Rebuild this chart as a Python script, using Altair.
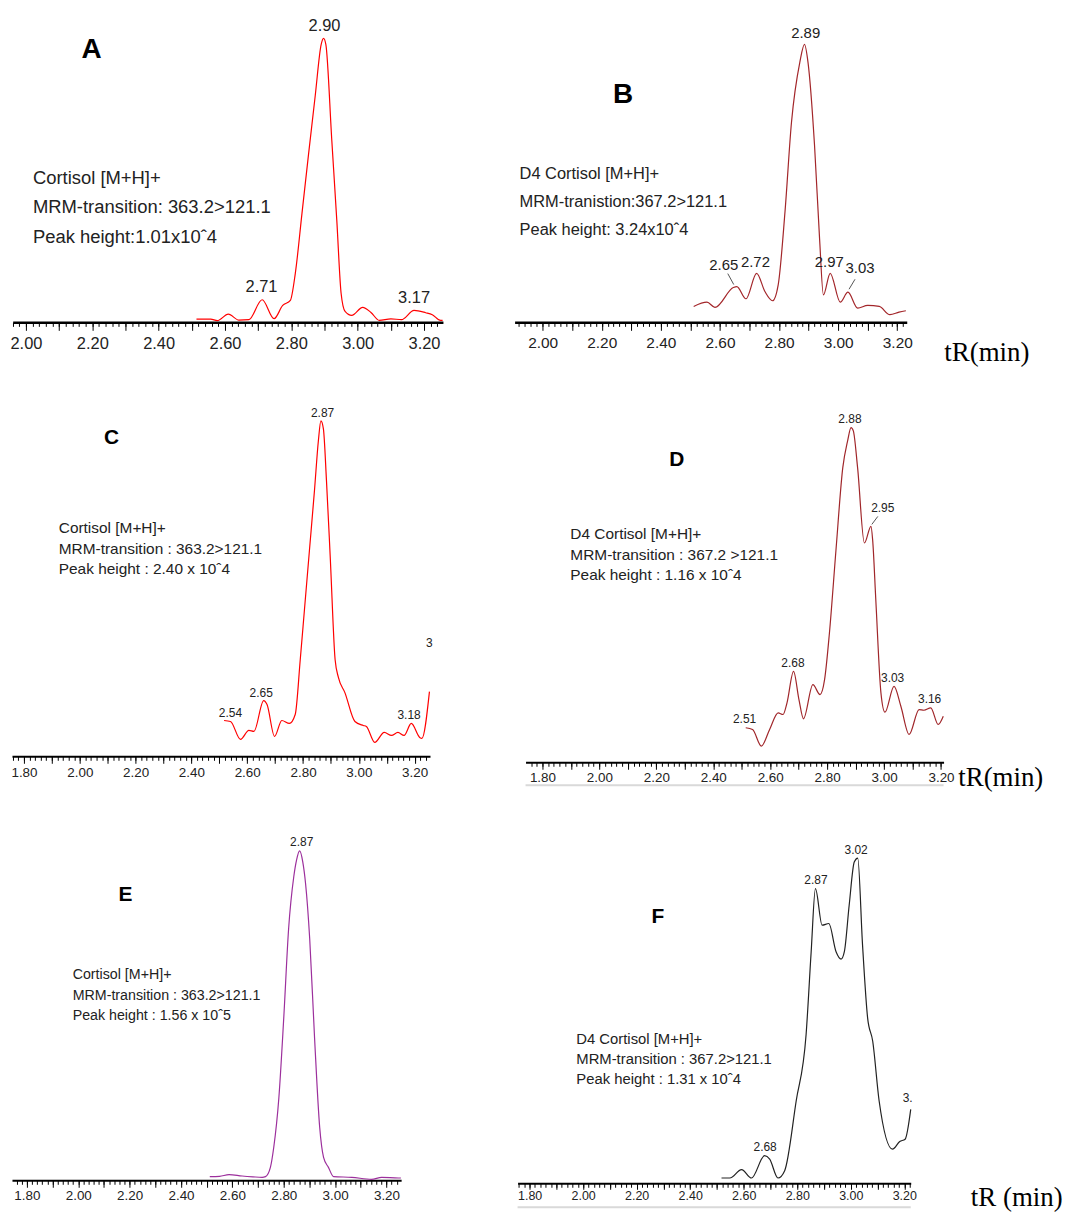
import altair as alt
import pandas as pd

# ---------------- data ----------------
# Panel A  Cortisol (red)
A_t = [2.514, 2.557, 2.577, 2.610, 2.642, 2.672, 2.712, 2.748, 2.774, 2.797, 2.812, 2.832, 2.852, 2.872,
       2.890, 2.897, 2.904, 2.922, 2.937, 2.950, 2.962, 2.982, 3.015, 3.040, 3.065, 3.100, 3.132, 3.170,
       3.205, 3.225, 3.250, 3.256]
A_h = [3.3, 3.3, 1.7, 8.3, 2.3, 2.7, 22.7, 3.7, 17.0, 22.0, 49.3, 109.3, 169.3, 227.7, 279.3, 285.3,
       279.3, 182.7, 102.7, 29.3, 11.0, 7.0, 15.0, 10.0, 2.0, 3.5, 2.7, 12.0, 9.7, 7.7, 2.0, 2.0]
A_pk_t = [2.71, 2.90, 3.17]
A_pk_h = [22.7, 285.3, 12.0]
A_pk_lab = ["2.71", "2.90", "3.17"]
A_notes = ["Cortisol [M+H]+", "MRM-transition: 363.2>121.1", "Peak height:1.01x10ˆ4"]

# Panel B  D4 Cortisol (dark red)
B_t = [2.511, 2.556, 2.583, 2.645, 2.657, 2.688, 2.724, 2.752, 2.778, 2.797, 2.820, 2.842, 2.870, 2.886,
       2.898, 2.920, 2.937, 2.950, 2.973, 3.007, 3.033, 3.066, 3.100, 3.139, 3.175, 3.206, 3.229]
B_h = [16.0, 20.3, 15.0, 35.0, 36.0, 23.7, 49.3, 31.0, 21.7, 37.7, 111.0, 201.0, 261.0, 279.3, 261.0,
       177.7, 84.3, 27.7, 49.3, 20.3, 30.3, 14.3, 17.0, 16.0, 7.7, 10.3, 11.7]
B_pk_t = [2.72, 2.89, 2.97]
B_pk_h = [49.3, 279.3, 49.3]
B_pk_lab = ["2.72", "2.89", "2.97"]
B_ld1_t, B_ld1_h, B_ld1_lab = [2.65], [36.0], ["2.65"]
B_ld2_t, B_ld2_h, B_ld2_lab = [3.03], [30.3], ["3.03"]
B_notes = ["D4 Cortisol [M+H]+", "MRM-tranistion:367.2>121.1", "Peak height: 3.24x10ˆ4"]

# Panel C  Cortisol (red)
C_t = [2.517, 2.540, 2.576, 2.606, 2.624, 2.659, 2.671, 2.698, 2.724, 2.751, 2.772, 2.790, 2.805, 2.823,
       2.841, 2.855, 2.864, 2.873, 2.884, 2.898, 2.915, 2.927, 2.950, 2.986, 3.016, 3.027, 3.057, 3.091,
       3.117, 3.140, 3.162, 3.188, 3.218, 3.226, 3.253]
C_h = [36, 35, 17, 26, 25, 56, 52, 20, 36, 33, 42, 97, 147, 207, 267, 317, 337, 329, 277, 197, 97, 79,
       64, 35, 31, 30, 14, 24, 21, 24, 21, 33, 19, 18, 65]
C_pk_t = [2.54, 2.65, 2.87, 3.18]
C_pk_h = [35.5, 56.0, 337.0, 33.0]
C_pk_lab = ["2.54", "2.65", "2.87", "3.18"]
C_cut_t, C_cut_h, C_cut_lab = [3.2406], [114.0], ["3"]
C_notes = ["Cortisol [M+H]+", "MRM-transition : 363.2>121.1", "Peak height : 2.40 x 10ˆ4"]

# Panel D  D4 Cortisol (dark red)
D_t = [2.514, 2.538, 2.569, 2.598, 2.628, 2.645, 2.659, 2.682, 2.701, 2.717, 2.750, 2.775, 2.791, 2.808,
       2.831, 2.855, 2.872, 2.884, 2.892, 2.907, 2.931, 2.954, 2.960, 2.971, 2.989, 3.003, 3.035, 3.059,
       3.088, 3.123, 3.140, 3.164, 3.190, 3.208]
D_h = [34.7, 33.0, 16.3, 33.0, 49.7, 48.0, 59.7, 91.3, 63.0, 43.7, 78.0, 68.0, 83.0, 129.7, 213.0, 296.0,
       323.0, 336.3, 333.0, 296.0, 220.3, 237.0, 223.0, 163.0, 69.7, 50.3, 76.3, 56.3, 28.0, 53.0, 52.3,
       54.7, 38.0, 46.3]
D_pk_t = [2.51, 2.68, 2.88, 3.03, 3.16]
D_pk_h = [34.7, 91.3, 336.3, 76.3, 54.7]
D_pk_lab = ["2.51", "2.68", "2.88", "3.03", "3.16"]
D_ld_t, D_ld_h, D_ld_lab = [2.95], [237.0], ["2.95"]
D_notes = ["D4 Cortisol [M+H]+", "MRM-transition : 367.2 >121.1", "Peak height : 1.16 x 10ˆ4"]

# Panel E  Cortisol (purple)
E_t = [2.512, 2.550, 2.587, 2.638, 2.680, 2.716, 2.729, 2.748, 2.761, 2.781, 2.800, 2.819, 2.839, 2.850,
       2.862, 2.874, 2.885, 2.901, 2.920, 2.940, 2.955, 2.974, 2.994, 3.065, 3.142, 3.181, 3.246, 3.256]
E_h = [3.7, 4.0, 5.7, 4.3, 3.5, 3.0, 3.7, 13, 33, 83, 163, 253, 305, 322, 331, 320, 298, 243, 143, 53,
       23, 13, 3.7, 3.0, 1.0, 3.0, 2.3, 2.3]
E_pk_t = [2.87]
E_pk_h = [331.0]
E_pk_lab = ["2.87"]
E_notes = ["Cortisol [M+H]+", "MRM-transition : 363.2>121.1", "Peak height : 1.56 x 10ˆ5"]

# Panel F  D4 Cortisol (black)
F_t = [2.517, 2.548, 2.592, 2.629, 2.678, 2.697, 2.728, 2.753, 2.796, 2.833, 2.852, 2.868, 2.893, 2.918,
       2.945, 2.964, 2.976, 2.994, 3.013, 3.026, 3.044, 3.063, 3.082, 3.106, 3.156, 3.183, 3.203, 3.224]
F_h = [5.3, 5.3, 13.7, 5.3, 27.7, 24.3, 5.3, 12.7, 82.7, 149.3, 232.7, 296.0, 259.3, 261.0, 232.7, 225.3,
       232.7, 279.3, 322.7, 326.7, 239.3, 166.0, 142.7, 82.7, 34.3, 42.0, 44.3, 74.3]
F_pk_t = [2.68, 2.87, 3.02]
F_pk_h = [27.7, 296.0, 326.7]
F_pk_lab = ["2.68", "2.87", "3.02"]
F_cut_t, F_cut_h, F_cut_lab = [3.194], [86.0], ["3."]
F_notes = ["D4 Cortisol [M+H]+", "MRM-transition : 367.2>121.1", "Peak height : 1.31 x 10ˆ4"]

# ---------------- layout / style ----------------
W_TOTAL, H_TOTAL = 1055, 1205
SANS = "Liberation Sans, Arial, sans-serif"
SERIF = "Liberation Serif, Times New Roman, serif"
ONE = pd.DataFrame({"k": [0]})
LABEL_EXPR = "abs(datum.value * 5 - round(datum.value * 5)) < 0.001 ? format(datum.value, '.2f') : ''"

# plot rectangle of each panel in chart pixels: x range, axis baseline, full-scale height
GEOM = {
    "A": dict(xdom=[1.96, 3.257], xr=[4.7, 437], yaxis=313, ymax=313),
    "B": dict(xdom=[1.905, 3.232], xr=[509, 903], yaxis=313, ymax=313),
    "C": dict(xdom=[1.757, 3.255], xr=[4, 424], yaxis=749, ymax=359),
    "D": dict(xdom=[1.7406, 3.209], xr=[520, 940], yaxis=755, ymax=365),
    "E": dict(xdom=[1.742, 3.257], xr=[4, 395], yaxis=1175, ymax=353),
    "F": dict(xdom=[1.755, 3.224], xr=[512, 907], yaxis=1178, ymax=356),
}


def steps(lo, hi, step, nd):
    vals = [round(i * step, nd) for i in range(int(lo / step), int(hi / step) + 2)]
    return [v for v in vals if lo - 1e-9 <= v <= hi + 1e-9]


def xscale(g):
    return alt.Scale(domain=g["xdom"], range=g["xr"], nice=False, zero=False)


def yscale(g):
    return alt.Scale(domain=[0, g["ymax"]], range=[g["yaxis"], g["yaxis"] - g["ymax"]],
                     nice=False, zero=True)


def text_layer(g, t, h, lab, size, dy, dx=0, baseline="alphabetic", align="center", axis=None):
    df = pd.DataFrame({"t": t, "h": h, "lab": lab})
    xkw = dict(scale=xscale(g))
    if axis is not None:
        xkw["axis"] = axis
        xkw["title"] = axis.to_dict().get("title", "")
    else:
        xkw["axis"] = None
    return alt.Chart(df).mark_text(font=SANS, fontSize=size, color="#222", dx=dx, dy=dy,
                                   baseline=baseline, align=align).encode(
        x=alt.X("t:Q", **xkw), y=alt.Y("h:Q", scale=yscale(g), axis=None), text="lab:N")


def leader(g, t, h, xo, yo, x2o, y2o):
    df = pd.DataFrame({"t": t, "h": h})
    return alt.Chart(df).mark_rule(color="#555", strokeWidth=1, xOffset=xo, yOffset=yo,
                                   x2Offset=x2o, y2Offset=y2o).encode(
        x=alt.X("t:Q", scale=xscale(g), axis=None), y=alt.Y("h:Q", scale=yscale(g), axis=None),
        x2=alt.X2("t"), y2=alt.Y2("h"))


def panel(key, t, h, color, pk, pk_size, pk_dy, lab_size, lab_pad, dom_w, tl, ts,
          letter, letter_xy, letter_size, notes, notes_xy, notes_size, notes_lh,
          extra=(), title="", title_xy=(0, 0), gray=None):
    g = GEOM[key]
    off = g["yaxis"] - H_TOTAL
    df = pd.DataFrame({"t": t, "h": h})
    minor = alt.Axis(orient="bottom", offset=off, values=steps(g["xdom"][0], g["xdom"][1], 0.02, 2),
                     labels=False, ticks=True, tickSize=ts, tickColor="black", tickWidth=1,
                     domain=True, domainColor="black", domainWidth=dom_w, grid=False, title="")
    major_kw = dict(orient="bottom", offset=off, values=steps(g["xdom"][0], g["xdom"][1], 0.1, 1),
                    labelExpr=LABEL_EXPR, ticks=True, tickSize=tl, tickColor="black", tickWidth=1,
                    domain=False, grid=False, labelFont=SANS, labelFontSize=lab_size,
                    labelColor="#222", labelPadding=lab_pad, labelFlush=False, labelOverlap=False,
                    title=title)
    if title:
        major_kw.update(titleX=title_xy[0], titleY=title_xy[1], titleFont=SERIF, titleFontSize=27,
                        titleFontWeight="normal", titleColor="black", titleAlign="center",
                        titleBaseline="middle", titleAngle=0)
    line = alt.Chart(df).mark_line(color=color, strokeWidth=1.2, interpolate="monotone").encode(
        x=alt.X("t:Q", title="", scale=xscale(g), axis=minor),
        y=alt.Y("h:Q", scale=yscale(g), axis=None))
    peaks = text_layer(g, pk[0], pk[1], pk[2], pk_size, pk_dy, axis=alt.Axis(**major_kw))
    let = alt.Chart(ONE).mark_text(text=letter, font=SANS, fontWeight="bold", fontSize=letter_size,
                                   color="black", align="center", baseline="middle").encode(
        x=alt.value(letter_xy[0]), y=alt.value(letter_xy[1]))
    nts = alt.Chart(ONE).mark_text(text=notes, font=SANS, fontSize=notes_size, lineHeight=notes_lh,
                                   color="#222", align="left", baseline="middle").encode(
        x=alt.value(notes_xy[0]), y=alt.value(notes_xy[1]))
    layers = [line, peaks, let, nts] + [f(g) for f in extra]
    if gray is not None:
        layers.append(alt.Chart(ONE).mark_rule(color="#d9d9d9", strokeWidth=2).encode(
            x=alt.value(gray[0]), x2=alt.value(gray[1]), y=alt.value(gray[2])))
    return layers


layers = []
layers += panel("A", A_t, A_h, "#ff0000", (A_pk_t, A_pk_h, A_pk_lab), 16.5, -7.5, 16.5, 5, 2.5, 8, 4,
                "A", (84, 39), 28, A_notes, (25, 168), 18.5, 29.5)
layers += panel("B", B_t, B_h, "#a3262a", (B_pk_t, B_pk_h, B_pk_lab), 15, -6, 15.5, 5, 2.5, 8, 4,
                "B", (618, 85), 28, B_notes, (514, 164), 16.5, 28,
                extra=[lambda g: text_layer(g, B_ld1_t, B_ld1_h, B_ld1_lab, 15, -22, dx=-11, baseline="middle"),
                       lambda g: leader(g, B_ld1_t, B_ld1_h, -1, -2, -7, -13),
                       lambda g: text_layer(g, B_ld2_t, B_ld2_h, B_ld2_lab, 15, -24, dx=13, baseline="middle"),
                       lambda g: leader(g, B_ld2_t, B_ld2_h, 2, -3, 8, -13)],
                title="tR(min)", title_xy=(983, 30))
layers += panel("C", C_t, C_h, "#ff0000", (C_pk_t, C_pk_h, C_pk_lab), 12, -4, 13.5, 2, 2, 7, 4,
                "C", (104, 429), 21, C_notes, (51, 520), 15.5, 20.5,
                extra=[lambda g: text_layer(g, C_cut_t, C_cut_h, C_cut_lab, 12, 0, baseline="middle", align="left")])
layers += panel("D", D_t, D_h, "#a0262a", (D_pk_t, D_pk_h, D_pk_lab), 12, -4.5, 13.5, 1, 2, 7, 4,
                "D", (672, 451), 21, D_notes, (565, 526), 15.5, 20.5,
                extra=[lambda g: text_layer(g, D_ld_t, D_ld_h, D_ld_lab, 12, -18, dx=13, baseline="middle"),
                       lambda g: leader(g, D_ld_t, D_ld_h, 2, -2, 8, -10)],
                title="tR(min)", title_xy=(997, 15), gray=(520, 940, 778))
layers += panel("E", E_t, E_h, "#9c2f9c", (E_pk_t, E_pk_h, E_pk_lab), 12, -4.5, 13.5, 1, 2, 7, 4,
                "E", (118, 888), 21, E_notes, (65, 969), 14.3, 20.5)
layers += panel("F", F_t, F_h, "#222222", (F_pk_t, F_pk_h, F_pk_lab), 12, -4.5, 12.5, 0, 2, 6, 4,
                "F", (653, 910), 21, F_notes, (571, 1034), 14.9, 20,
                extra=[lambda g: text_layer(g, F_cut_t, F_cut_h, F_cut_lab, 12, 0, baseline="middle", align="left")],
                title="tR (min)", title_xy=(1013, 14), gray=(512, 907, 1202))

chart = alt.layer(*layers).resolve_scale(x="independent", y="independent").resolve_axis(
    x="independent", y="independent").properties(
    width=W_TOTAL, height=H_TOTAL, padding=0).configure_view(strokeWidth=0)

chart.save("out.html", embed_options={"renderer": "svg", "actions": False})
